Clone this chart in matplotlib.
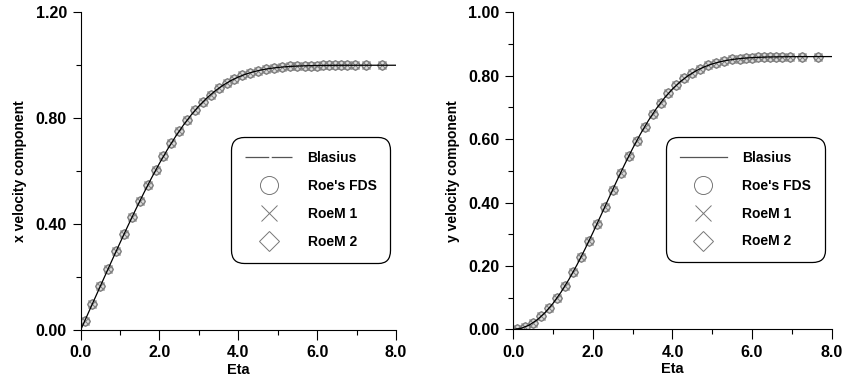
import matplotlib.pyplot as plt
from matplotlib.lines import Line2D
from matplotlib.ticker import MultipleLocator, FormatStrFormatter

plt.rcParams['font.family'] = ['Liberation Sans', 'DejaVu Sans']
plt.rcParams['font.weight'] = 'bold'

# Blasius similarity solution, eta every 0.2 (plus a few far-field points)
eta_blasius = [0.0, 0.2, 0.4, 0.6, 0.8, 1.0, 1.2, 1.4, 1.6, 1.8, 2.0, 2.2, 2.4, 2.6,
               2.8, 3.0, 3.2, 3.4, 3.6, 3.8, 4.0, 4.2, 4.4, 4.6, 4.8, 5.0, 5.2, 5.4,
               5.6, 5.8, 6.0, 6.4, 6.8, 7.2, 7.6, 8.0]
u_blasius = [0.0, 0.06641, 0.13277, 0.19894, 0.26471, 0.32979, 0.39378, 0.45627,
             0.51676, 0.57477, 0.62977, 0.68132, 0.72899, 0.77246, 0.81152, 0.84605,
             0.87609, 0.90177, 0.92333, 0.94112, 0.95552, 0.96696, 0.97587, 0.98269,
             0.98779, 0.99155, 0.99425, 0.99616, 0.99748, 0.99838, 0.99898, 0.99961,
             0.99987, 0.99995, 0.99999, 1.0]
v_blasius = [0.0, 0.00332, 0.01327, 0.02981, 0.05283, 0.08211, 0.11729, 0.15790,
             0.20325, 0.25253, 0.30476, 0.35885, 0.41364, 0.46794, 0.52063, 0.57067,
             0.61719, 0.65953, 0.69722, 0.73010, 0.75816, 0.78159, 0.80072, 0.81606,
             0.82803, 0.83723, 0.84411, 0.84916, 0.85279, 0.85535, 0.85712, 0.85906,
             0.85992, 0.86020, 0.86034, 0.86040]

# computed profiles (Roe's FDS, RoeM 1, RoeM 2 lie on top of each other)
eta_calc = [0.1, 0.3, 0.5, 0.7, 0.9, 1.1, 1.3, 1.5, 1.7, 1.9, 2.1, 2.3, 2.5, 2.7,
            2.9, 3.1, 3.3, 3.5, 3.7, 3.9, 4.1, 4.3, 4.5, 4.7, 4.9, 5.1, 5.3, 5.5,
            5.7, 5.85, 6.0, 6.15, 6.3, 6.45, 6.6, 6.75, 6.95, 7.25, 7.65]
u_calc = [0.0332, 0.0996, 0.1659, 0.2320, 0.2974, 0.3621, 0.4254, 0.4868, 0.5461,
          0.6026, 0.6557, 0.7056, 0.7513, 0.7925, 0.8293, 0.8616, 0.8894, 0.9130,
          0.9326, 0.9486, 0.9616, 0.9716, 0.9795, 0.9854, 0.9898, 0.9930, 0.9953,
          0.9969, 0.9980, 0.9986, 0.9990, 0.9993, 0.9996, 0.9997, 0.9998, 0.9999,
          0.9999, 1.0, 1.0]
v_calc = [0.0008, 0.0075, 0.0207, 0.0406, 0.0667, 0.0990, 0.1369, 0.1800, 0.2274,
          0.2783, 0.3314, 0.3862, 0.4410, 0.4946, 0.5460, 0.5944, 0.6388, 0.6789,
          0.7141, 0.7443, 0.7704, 0.7916, 0.8088, 0.8224, 0.8329, 0.8409, 0.8469,
          0.8512, 0.8543, 0.8560, 0.8571, 0.8581, 0.8589, 0.8592, 0.8596, 0.8598,
          0.8600, 0.8602, 0.8604]

legend_labels = ['Blasius', "Roe's FDS", 'RoeM 1', 'RoeM 2']

fig = plt.figure(figsize=(8.42, 3.78), dpi=100)
ax1 = fig.add_axes([0.0958, 0.127, 0.3745, 0.8405])
ax2 = fig.add_axes([0.6096, 0.1288, 0.3781, 0.8386])

mk_edge = '#808080'


def draw_panel(ax, eta_line, line_vals, eta_pts, pts, ymax, ymajor, ylabel, line_dash, leg_x):
    ax.plot(eta_line, line_vals, color='black', lw=0.9, zorder=3)
    ax.plot(eta_pts, pts, ls='none', marker='o', ms=6.5, mfc='#dedede', mec=mk_edge, mew=0.7, zorder=2)
    ax.plot(eta_pts, pts, ls='none', marker='x', ms=5.5, mec=mk_edge, mew=0.7, zorder=2)
    ax.plot(eta_pts, pts, ls='none', marker='D', ms=5, mfc='none', mec=mk_edge, mew=0.7, zorder=2)

    ax.set_xlim(0, 8)
    ax.set_ylim(0, ymax)
    ax.xaxis.set_major_locator(MultipleLocator(2))
    ax.xaxis.set_minor_locator(MultipleLocator(1))
    ax.yaxis.set_major_locator(MultipleLocator(ymajor))
    ax.yaxis.set_minor_locator(MultipleLocator(ymajor / 2))
    ax.xaxis.set_major_formatter(FormatStrFormatter('%.1f'))
    ax.yaxis.set_major_formatter(FormatStrFormatter('%.2f'))
    ax.tick_params(which='major', direction='out', length=6, width=0.8, labelsize=11.5, pad=4)
    ax.tick_params(which='minor', direction='out', length=3.5, width=0.8)
    ax.tick_params(axis='x', which='major', length=7)
    for s in ['top', 'right']:
        ax.spines[s].set_visible(False)
    for s in ['left', 'bottom']:
        ax.spines[s].set_linewidth(0.8)
    ax.set_xlabel('Eta', fontsize=10.5, fontweight='bold', labelpad=2)
    ax.set_ylabel(ylabel, fontsize=10, fontweight='bold', labelpad=6)

    handles = [
        Line2D([], [], color='#555555', lw=0.9, ls=line_dash),
        Line2D([], [], ls='none', marker='o', ms=13, mfc='none', mec='#777777', mew=0.7),
        Line2D([], [], ls='none', marker='x', ms=12, mec='#777777', mew=0.7),
        Line2D([], [], ls='none', marker='D', ms=10, mfc='none', mec='#777777', mew=0.7),
    ]
    leg = ax.legend(handles, legend_labels, loc='center right', bbox_to_anchor=(leg_x, 0.409),
                    borderaxespad=0, handlelength=3.4, handletextpad=1.1, labelspacing=1.0,
                    borderpad=1.0, frameon=True, fancybox=True, prop={'weight': 'bold', 'size': 10})
    frame = leg.get_frame()
    frame.set_boxstyle('round', pad=0, rounding_size=0.9)
    frame.set_edgecolor('black')
    frame.set_linewidth(0.9)
    frame.set_alpha(1)


draw_panel(ax1, eta_blasius, u_blasius, eta_calc, u_calc, 1.2, 0.4,
           'x velocity component', (0, (19, 2)), 0.982)
draw_panel(ax2, eta_blasius, v_blasius, eta_calc, v_calc, 1.0, 0.2,
           'y velocity component', '-', 0.979)

plt.savefig('out.png', dpi=100)
